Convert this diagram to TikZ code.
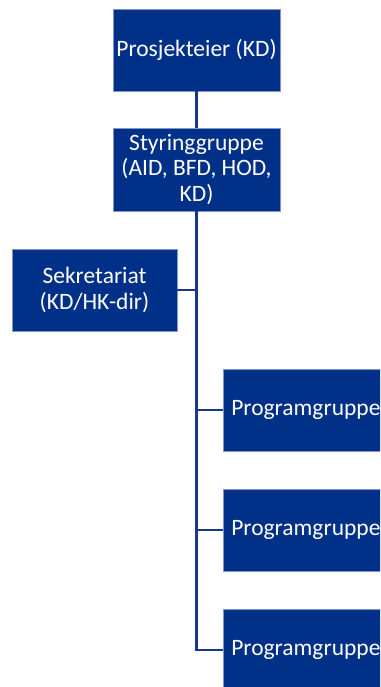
\documentclass[tikz,border=0pt]{standalone}
\usepackage{fontspec}
\setmainfont{Carlito}
\definecolor{boxblue}{RGB}{0,48,135}
\definecolor{edgeblue}{RGB}{130,150,205}
\definecolor{lineblue}{RGB}{25,55,140}
\begin{document}
\begin{tikzpicture}[x=1pt,y=-1pt,
  orgbox/.style={rectangle, fill=boxblue, draw=edgeblue, line width=0.6pt,
    text=white, font=\fontsize{23.5}{25.5}\selectfont, align=center, inner sep=0pt},
  link/.style={draw=lineblue, line width=2.4pt}]
\useasboundingbox (0,0) rectangle (380,687);
\clip (0,0) rectangle (380,687);
\node[orgbox, minimum width=167, minimum height=82] (pe) at (196.5,50) {Prosjekteier (KD)};
\node[orgbox, minimum width=167, minimum height=83] (sg) at (196.5,169.5) {Styringgruppe\\(AID, BFD, HOD,\\KD)};
\node[orgbox, minimum width=165, minimum height=82] (sek) at (94.5,290) {Sekretariat\\(KD/HK-dir)};
\tikzset{prog/.style={orgbox, minimum height=82, text width=170, align=left, inner xsep=8pt, anchor=west}}
\node[prog] (p1) at (223,410) {Programgruppe};
\node[prog] (p2) at (223,530) {Programgruppe};
\node[prog] (p3) at (223,650) {Programgruppe};
\draw[link] (pe.south) -- (sg.north);
\draw[link] (sg.south) -- (sg.south |- p3.west) -- (p3.west);
\draw[link] (sek.east) -- (sg.south |- sek.east);
\draw[link] (sg.south |- p1.west) -- (p1.west);
\draw[link] (sg.south |- p2.west) -- (p2.west);
\end{tikzpicture}
\end{document}
